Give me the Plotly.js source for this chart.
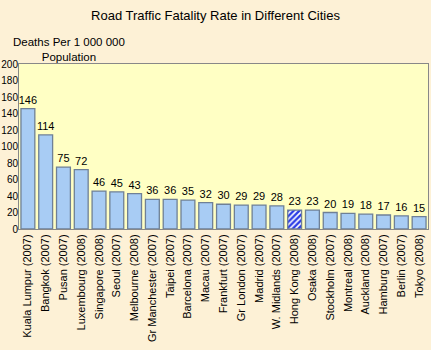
<!DOCTYPE html>
<html><head><meta charset="utf-8">
<script src="https://cdn.plot.ly/plotly-3.0.1.min.js"></script>
<style>html,body{margin:0;padding:0;background:#FDF1D6;}</style>
</head><body>
<div id="chart" style="width:431px;height:350px;"></div>
<script>
const cities = ["Kuala Lumpur (2007)","Bangkok (2007)","Pusan (2007)","Luxembourg (2008)","Singapore (2008)","Seoul (2007)","Melbourne (2008)","Gr Manchester (2007)","Taipei (2007)","Barcelona (2007)","Macau (2007)","Frankfurt (2007)","Gr London (2007)","Madrid (2007)","W. Midlands (2007)","Hong Kong (2008)","Osaka (2008)","Stockholm (2007)","Montreal (2008)","Auckland (2008)","Hamburg (2007)","Berlin (2007)","Tokyo (2008)"];
const rates = [146,114,75,72,46,45,43,36,36,35,32,30,29,29,28,23,23,20,19,18,17,16,15];
const yTicks = [0,20,40,60,80,100,120,140,160,180,200];
const highlight = "Hong Kong (2008)";

const fills = cities.map(c => c === highlight ? "#2A3CE6" : "#A8CCF4");
const pats = cities.map(c => c === highlight ? "/" : "");

const trace = {
  type: "bar", x: cities, y: rates,
  text: rates.map(String), textposition: "outside", cliponaxis: false, constraintext: "none",
  textfont: {family: "Liberation Sans, Arial", size: 11, color: "#000"},
  marker: {color: fills, line: {color: "#6F8096", width: 1.3},
    pattern: {shape: pats, fgcolor: "#B8C8FF", fillmode: "overlay", size: 4, solidity: 0.4, fgopacity: 1}},
  hoverinfo: "none"
};
const layout = {
  width: 431, height: 350,
  margin: {l: 19, r: 3, t: 64, b: 121},
  paper_bgcolor: "#FDF1D6", plot_bgcolor: "#FFFFC4",
  font: {family: "Liberation Sans, Arial", size: 11, color: "#000"},
  title: {text: "Road Traffic Fatality Rate in Different Cities", x: 0.5, xanchor: "center", y: 0.955, yanchor: "middle",
    font: {size: 13, color: "#000"}},
  bargap: 0.22,
  showlegend: false,
  xaxis: {tickangle: -90, showgrid: false, linecolor: "#888", showline: true, mirror: true, ticks: "",
    tickfont: {size: 11}},
  yaxis: {range: [0, 200], tickvals: yTicks, showgrid: false, showline: true, linecolor: "#888", mirror: true,
    ticks: "", ticklen: 0, ticklabelstandoff: -2, tickfont: {size: 10}, zeroline: false},
  annotations: [{text: "Deaths Per 1 000 000<br>Population", xref: "paper", yref: "paper", x: -0.02, xanchor: "left",
    y: 1.0, yanchor: "bottom", yshift: -1, showarrow: false, align: "center", font: {size: 11.5, color: "#000"}}]
};
Plotly.newPlot("chart", [trace], layout, {displayModeBar: false, staticPlot: true});
</script>
</body></html>
